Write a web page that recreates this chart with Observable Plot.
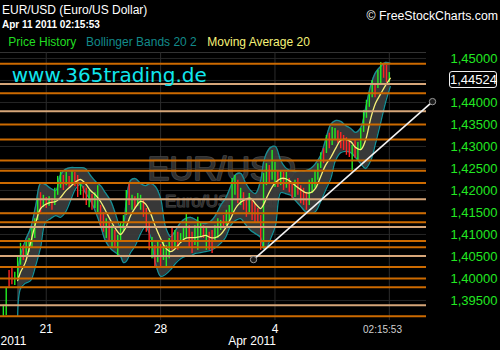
<!DOCTYPE html>
<html><head><meta charset="utf-8">
<script src="https://cdn.jsdelivr.net/npm/d3@7"></script>
<script src="https://cdn.jsdelivr.net/npm/@observablehq/plot@0.6"></script>
<style>
html,body{margin:0;padding:0;background:#000;}
#wrap{position:relative;width:500px;height:350px;overflow:hidden;background:#000;font-family:"Liberation Sans",Arial,sans-serif;}
#wrap svg{position:absolute;left:0;top:0;}
.ov{position:absolute;white-space:nowrap;line-height:1;}
</style></head><body>
<div id="wrap"></div>
<script>
// ---- data ----
// price bars sampled every 3 trading hours, hour 0 = Mon Mar 21 00:00
const barStartHour = -45, barStepHours = 3;
const barHigh = [1.3939,1.3977,1.4018,1.4025,1.4014,1.4052,1.4080,1.4075,1.4086,1.4091,
1.4114,1.4136,1.4182,1.4195,1.4189,1.4184,1.4186,1.4182,1.4205,1.4232,
1.4241,1.4234,1.4241,1.4232,1.4245,1.4241,1.4234,1.4216,1.4209,1.4205,
1.4200,1.4191,1.4195,1.4211,1.4166,1.4150,1.4136,1.4127,1.4120,1.4109,
1.4098,1.4127,1.4143,1.4200,1.4216,1.4189,1.4186,1.4193,1.4189,1.4177,
1.4159,1.4127,1.4093,1.4075,1.4082,1.4077,1.4082,1.4075,1.4091,1.4114,
1.4109,1.4105,1.4102,1.4114,1.4148,1.4120,1.4105,1.4120,1.4139,1.4127,
1.4120,1.4114,1.4105,1.4109,1.4120,1.4136,1.4132,1.4143,1.4155,1.4166,
1.4227,1.4234,1.4223,1.4205,1.4195,1.4182,1.4193,1.4177,1.4170,1.4159,
1.4143,1.4239,1.4261,1.4257,1.4291,1.4264,1.4245,1.4245,1.4241,1.4241,
1.4227,1.4218,1.4223,1.4227,1.4211,1.4205,1.4195,1.4223,1.4227,1.4245,
1.4261,1.4286,1.4295,1.4325,1.4330,1.4343,1.4341,1.4336,1.4332,1.4325,
1.4320,1.4314,1.4302,1.4314,1.4309,1.4341,1.4382,1.4405,1.4423,1.4450,
1.4443,1.4473,1.4491,1.4489,1.4484,1.4468];
const barLow = [1.3914,1.3916,1.3980,1.3986,1.3984,1.4000,1.4030,1.4041,1.4048,1.4059,
1.4070,1.4091,1.4132,1.4150,1.4161,1.4159,1.4164,1.4155,1.4166,1.4189,
1.4205,1.4200,1.4211,1.4207,1.4216,1.4209,1.4184,1.4189,1.4177,1.4166,
1.4161,1.4155,1.4159,1.4150,1.4114,1.4105,1.4091,1.4086,1.4070,1.4068,
1.4052,1.4086,1.4105,1.4143,1.4166,1.4155,1.4159,1.4164,1.4155,1.4139,
1.4105,1.4064,1.4045,1.4025,1.4036,1.4027,1.4041,1.4025,1.4045,1.4064,
1.4068,1.4064,1.4080,1.4082,1.4091,1.4068,1.4057,1.4075,1.4064,1.4093,
1.4091,1.4064,1.4064,1.4057,1.4082,1.4091,1.4109,1.4114,1.4120,1.4127,
1.4150,1.4189,1.4170,1.4166,1.4155,1.4139,1.4150,1.4132,1.4125,1.4127,
1.4064,1.4068,1.4211,1.4216,1.4223,1.4207,1.4207,1.4211,1.4200,1.4205,
1.4195,1.4182,1.4184,1.4189,1.4170,1.4166,1.4155,1.4166,1.4193,1.4205,
1.4223,1.4250,1.4261,1.4284,1.4295,1.4302,1.4314,1.4307,1.4295,1.4291,
1.4280,1.4275,1.4245,1.4273,1.4268,1.4291,1.4332,1.4364,1.4389,1.4411,
1.4411,1.4432,1.4443,1.4455,1.4445,1.4445];
const barUp = [1,1,0,0,1,1,1,0,1,1, 1,1,1,0,1,0,1,0,1,1, 1,0,1,0,1,0,0,1,0,0,
1,0,1,1,0,0,1,0,1,0, 1,1,1,1,0,1,0,1,1,0, 0,0,1,0,1,0,1,1,1,0,
1,0,1,1,1,0,0,1,1,1, 0,1,0,0,1,1,1,0,1,1, 1,1,0,1,0,0,1,0,0,0,
0,1,1,0,1,1,0,1,0,1, 0,0,1,0,0,0,0,1,1,1, 1,1,0,1,0,1,1,0,0,0,
0,0,1,0,1,1,1,1,1,1, 0,1,1,0,0,1];

// Bollinger Bands 20 2 and Moving Average 20
const bandHour = [-30,-27,-22,-16.5,-11,-6,-1,4.5,10,15, 20,25.5,31,36,41,46.5,52,57,62,67.5,
72.5,78,81,84,88.5,93.5,99,104,109.5,114.5, 120,125,130.5,135.5,141,146,151.5,156.5,162,167,
172.5,177.5,183,188,193.5,198.5,204,209,214.5,219.5, 225,228,231,235.5,240.5,246,251,256.5,261.5,267,
272,277.5,282.5,288,293,298.5,303.5,309,314,319.5, 324.5,330,335,340.5,345.5,351,356,361];
const bandUpper = [1.4011,1.4052,1.4086,1.4114,1.4166,1.4216,1.4214,1.4205,1.4200,1.4236,
1.4248,1.4252,1.4252,1.4252,1.4250,1.4234,1.4220,1.4211,1.4195,1.4177,
1.4148,1.4116,1.4123,1.4177,1.4223,1.4227,1.4216,1.4211,1.4216,1.4209,
1.4182,1.4118,1.4095,1.4109,1.4127,1.4136,1.4139,1.4134,1.4127,1.4125,
1.4130,1.4143,1.4166,1.4182,1.4209,1.4236,1.4239,1.4218,1.4200,1.4193,
1.4223,1.4264,1.4284,1.4298,1.4300,1.4268,1.4252,1.4245,1.4243,1.4245,
1.4245,1.4250,1.4261,1.4280,1.4314,1.4350,1.4359,1.4357,1.4348,1.4341,
1.4332,1.4343,1.4386,1.4439,1.4468,1.4482,1.4491,1.4489];
const bandLower = [1.3916,1.3977,1.3989,1.3995,1.4030,1.4070,1.4127,1.4136,1.4143,1.4139,
1.4150,1.4177,1.4205,1.4214,1.4195,1.4177,1.4150,1.4120,1.4086,1.4068,
1.4059,1.4050,1.4036,1.4039,1.4059,1.4075,1.4102,1.4118,1.4095,1.4036,
1.4005,1.4009,1.4020,1.4034,1.4045,1.4050,1.4052,1.4057,1.4059,1.4061,
1.4064,1.4070,1.4080,1.4093,1.4120,1.4132,1.4136,1.4123,1.4109,1.4102,
1.4093,1.4068,1.4070,1.4091,1.4120,1.4195,1.4193,1.4189,1.4177,1.4164,
1.4152,1.4148,1.4152,1.4175,1.4200,1.4227,1.4268,1.4286,1.4289,1.4286,
1.4275,1.4261,1.4250,1.4268,1.4307,1.4355,1.4400,1.4436];
const maValue = [1.3995,1.4014,1.4036,1.4080,1.4127,1.4159,1.4168,1.4173,1.4175,1.4184,
1.4198,1.4209,1.4220,1.4225,1.4216,1.4200,1.4189,1.4175,1.4155,1.4132,
1.4114,1.4100,1.4107,1.4118,1.4143,1.4161,1.4175,1.4170,1.4148,1.4118,
1.4091,1.4070,1.4061,1.4068,1.4082,1.4091,1.4093,1.4093,1.4095,1.4098,
1.4093,1.4093,1.4100,1.4114,1.4136,1.4159,1.4173,1.4180,1.4182,1.4170,
1.4159,1.4168,1.4182,1.4202,1.4218,1.4227,1.4227,1.4220,1.4211,1.4202,
1.4195,1.4195,1.4205,1.4232,1.4257,1.4275,1.4295,1.4314,1.4316,1.4311,
1.4298,1.4293,1.4314,1.4364,1.4398,1.4420,1.4439,1.4455];

// drawn horizontal levels (dark orange / light tan)
const levelPrice = [1.4488,1.4442,1.4421,1.4380,1.4350,1.4316,1.4268,1.4245,1.4217,1.4180,
1.4148,1.4128,1.4117,1.4085,1.4071,1.4051,1.4026,1.4000,1.3980,1.3939,1.3914];
const levelKind = ["o","t","o","t","o","o","o","o","o","t","o","o","t","o","o","t","o","o","o","t","o"];

// trend line
const trendHour = [217.5, 405.3];
const trendPrice = [1.4043, 1.4402];

// axes
const yTicks = [1.395,1.400,1.405,1.410,1.415,1.420,1.425,1.430,1.435,1.440,1.445,1.450];
const xTickHours = [0,120,240];
const xTickLabels = ["21","28","4"];
const gridHours = [0,120,240,360];
const monthHours = [-48, 216];
const monthLabels = ["2011","Apr 2011"];
const currentPrice = 1.44524;
const currentHour = 362.26;
const currentTimeLabel = "02:15:53";

// ---- build ----
const fmtPrice = p => p.toFixed(5).replace(".", ",");
const bars = barHigh.map((h,i)=>({t: barStartHour + i*barStepHours, high: h, low: barLow[i], up: barUp[i]}));
const band = bandHour.map((t,i)=>({t, upper: bandUpper[i], lower: bandLower[i], ma: maValue[i]}));
const levels = levelPrice.map((p,i)=>({p, kind: levelKind[i]}));
const trend = [{x1: trendHour[0], y1: trendPrice[0], x2: trendHour[1], y2: trendPrice[1]}];
const trendPts = trendHour.map((t,i)=>({t, p: trendPrice[i]}));
const xLab = new Map(xTickHours.map((h,i)=>[h, xTickLabels[i]]));
const yDomain = [1.39045, 1.45136];
const xDomain = [-48, 412];
const plotRightHour = 399;
const font = "Liberation Sans, Arial, sans-serif";

const chart = Plot.plot({
  width: 500, height: 350,
  marginTop: 52, marginBottom: 30, marginLeft: 0, marginRight: 61.6,
  style: {background: "#000", color: "#fff", fontFamily: font, fontSize: "12px", overflow: "visible"},
  x: {domain: xDomain, axis: null},
  y: {domain: yDomain, axis: null},
  marks: [
    Plot.ruleY(yTicks, {x1: xDomain[0], x2: plotRightHour, stroke: "#262626"}),
    Plot.ruleY([yDomain[1]], {x1: xDomain[0], x2: plotRightHour, stroke: "#333"}),
    Plot.ruleX(gridHours, {stroke: "#2c2c2c"}),
    Plot.text(["EUR/USD"], {text: d => d, frameAnchor: "middle", dx: 2, dy: -17, fontSize: 33, fill: "#2f2f2f", stroke: "#474747", strokeWidth: 1.6, fontFamily: font}),
    Plot.text(["Euro/US Dollar"], {text: d => d, frameAnchor: "middle", dx: 2, dy: 15, fontSize: 17, fill: "#2f2f2f", stroke: "#444", strokeWidth: 1.2, fontFamily: font}),
    Plot.areaY(band, {x: "t", y1: "lower", y2: "upper", fill: "#3d3d3d", fillOpacity: 0.92, curve: "catmull-rom"}),
    Plot.line(band, {x: "t", y: "upper", stroke: "#168f96", strokeWidth: 1.3, curve: "catmull-rom"}),
    Plot.line(band, {x: "t", y: "lower", stroke: "#168f96", strokeWidth: 1.3, curve: "catmull-rom"}),
    Plot.ruleX(bars.filter(d => d.up), {x: "t", y1: "low", y2: "high", stroke: "#22ee22", strokeWidth: 1.4}),
    Plot.ruleX(bars.filter(d => !d.up), {x: "t", y1: "low", y2: "high", stroke: "#ff2424", strokeWidth: 1.4}),
    Plot.line(band, {x: "t", y: "ma", stroke: "#f6f278", strokeWidth: 1.3, curve: "catmull-rom"}),
    Plot.ruleY(levels.filter(d => d.kind === "o"), {y: "p", x1: xDomain[0], x2: plotRightHour, stroke: "#cc6a00", strokeWidth: 2}),
    Plot.ruleY(levels.filter(d => d.kind === "t"), {y: "p", x1: xDomain[0], x2: plotRightHour, stroke: "#d6a679", strokeWidth: 2}),
    Plot.link(trend, {x1: "x1", y1: "y1", x2: "x2", y2: "y2", stroke: "#f2f2f2", strokeWidth: 1.6}),
    Plot.dot(trendPts, {x: "t", y: "p", r: 3.2, stroke: "#9a9a9a", fill: "#1a1a1a", strokeWidth: 1}),
    Plot.axisY(yTicks, {anchor: "right", tickSize: 0, tickPadding: 11.6, tickFormat: fmtPrice, fill: "#22e822", fontSize: 13, fontFamily: font}),
    Plot.axisX(xTickHours, {anchor: "bottom", tickSize: 0, tickPadding: 3.5, tickFormat: d => xLab.get(d), fill: "#fff", fontSize: 12, fontFamily: font}),
    Plot.text([{t: monthHours[0], label: monthLabels[0]}], {x: "t", text: "label", frameAnchor: "bottom", dy: 24.5, textAnchor: "start", fill: "#fff", fontSize: 12, fontFamily: font}),
    Plot.text([{t: monthHours[1], label: monthLabels[1]}], {x: "t", text: "label", frameAnchor: "bottom", dy: 24.5, textAnchor: "middle", fill: "#fff", fontSize: 12, fontFamily: font}),
    Plot.text([{t: currentHour, label: currentTimeLabel}], {x: "t", text: "label", frameAnchor: "bottom", dy: 12, dx: -9, textAnchor: "middle", fill: "#d0d0d0", fontSize: 10, fontFamily: font})
  ]
});

const wrap = document.getElementById("wrap");
wrap.appendChild(chart);

function ov(text, css) {
  const d = document.createElement("div");
  d.className = "ov";
  d.textContent = text;
  Object.assign(d.style, css);
  wrap.appendChild(d);
  return d;
}
ov("EUR/USD (Euro/US Dollar)", {left: "2px", top: "3.8px", fontSize: "12px", color: "#fff"});
ov("Apr 11 2011 02:15:53", {left: "2px", top: "19.8px", fontSize: "10px", fontWeight: "bold", color: "#fff"});
ov("Price History", {left: "8.3px", top: "36.3px", fontSize: "12px", color: "#22dd22"});
ov("Bollinger Bands 20 2", {left: "86px", top: "36.3px", fontSize: "12px", color: "#128a8a"});
ov("Moving Average 20", {left: "207.3px", top: "36.3px", fontSize: "12px", color: "#f6f278"});
ov("www.365trading.de", {left: "11.7px", top: "64.8px", fontSize: "20px", color: "#10e6ee", fontFamily: "'DejaVu Sans', Verdana, sans-serif"});
ov("\u00A9 FreeStockCharts.com", {right: "2px", top: "10.3px", fontSize: "12.3px", color: "#fff"});

const yPx = chart.scale("y").apply(currentPrice);
ov(fmtPrice(currentPrice), {
  left: "449px", top: (yPx - 7.5) + "px", width: "46px", height: "15px",
  border: "1px solid #f0f0f0", borderRadius: "3px", background: "#000",
  color: "#fff", fontSize: "13px", textAlign: "center", lineHeight: "15px"
});
</script>
</body></html>
